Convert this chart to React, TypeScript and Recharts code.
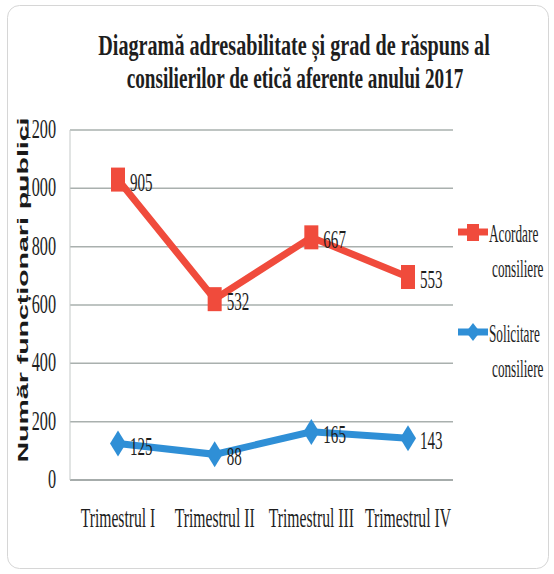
import React from "react";
import { AreaChart, Area, XAxis, YAxis, CartesianGrid, Legend, LabelList } from "recharts";

const quarters = ["Trimestrul I", "Trimestrul II", "Trimestrul III", "Trimestrul IV"];
const acordare = [905, 532, 667, 553];
const solicitare = [125, 88, 165, 143];
const yTicks = [0, 200, 400, 600, 800, 1000, 1200];
const seriesNames = ["Acordare consiliere", "Solicitare consiliere"];
const titleLines = ["Diagramă adresabilitate și grad de răspuns al", "consilierilor de etică aferente anului 2017"];
const yLabel = "Număr funcționari publici";

const RED = "#f04b3c";
const BLUE = "#2f8fd6";
const SERIF = "'Liberation Serif', 'Times New Roman', serif";
const SX = 0.58;

const data = quarters.map((q, i) => ({ q, solicitare: solicitare[i], acordare: acordare[i] }));

function Narrow({ x, y, size, anchor = "start", sx = SX, bold = false, children }: any) {
  return (
    <text
      transform={`translate(${x},${y}) scale(${sx},1)`}
      textAnchor={anchor}
      fontFamily={SERIF}
      fontWeight={bold ? "bold" : "normal"}
      fontSize={size}
      fill="#1e1e1e"
    >
      {children}
    </text>
  );
}

const XTick = ({ x, y, payload }: any) => (
  <Narrow x={x} y={y + 39} size={27} anchor="middle">{payload.value}</Narrow>
);

const YTick = ({ x, y, payload }: any) => (
  <Narrow x={x - 6} y={y + 8} size={28} anchor="end">{payload.value}</Narrow>
);

const redDot = (p: any) => (
  <rect key={`r${p.index}`} x={p.cx - 7} y={p.cy - 12} width={14} height={24} fill={RED} />
);

const blueDot = (p: any) => (
  <path
    key={`b${p.index}`}
    d={`M${p.cx - 8},${p.cy} L${p.cx},${p.cy - 13} L${p.cx + 8},${p.cy} L${p.cx},${p.cy + 13} Z`}
    fill={BLUE}
  />
);

const valueLabel = (p: any) => (
  <Narrow key={`l${p.index}`} x={p.x + 12} y={p.y + 11} size={26}>{p.value}</Narrow>
);

function LegendBox() {
  const items = [
    { name: seriesNames[0], color: RED, y: 17, shape: "square" },
    { name: seriesNames[1], color: BLUE, y: 117, shape: "diamond" },
  ];
  return (
    <svg width={99} height={170}>
      {items.map((it) => {
        const [a, b] = it.name.split(" ");
        return (
          <g key={it.name}>
            <line x1={3} x2={33} y1={it.y} y2={it.y} stroke={it.color} strokeWidth={7} />
            {it.shape === "square" ? (
              <rect x={12} y={it.y - 8} width={12} height={17} fill={it.color} />
            ) : (
              <path d={`M11,${it.y} L18,${it.y - 9} L25,${it.y} L18,${it.y + 9} Z`} fill={it.color} />
            )}
            <Narrow x={34} y={it.y + 10} size={25} sx={0.53}>{a}</Narrow>
            <Narrow x={37} y={it.y + 45} size={25} sx={0.53}>{b}</Narrow>
          </g>
        );
      })}
    </svg>
  );
}

export default function App() {
  return (
    <div style={{ position: "absolute", left: 0, top: 0, width: 554, height: 574, background: "#fff" }}>
      <AreaChart
        width={554}
        height={574}
        data={data}
        margin={{ top: 130, right: 101, bottom: 54, left: 0 }}
      >
        <CartesianGrid vertical={false} stroke="#a9b0ae" strokeWidth={1.5} />
        <XAxis
          dataKey="q"
          height={40}
          padding={{ left: 48, right: 45 }}
          axisLine={{ stroke: "#9ea5a3", strokeWidth: 1.5 }}
          tickLine={false}
          tick={<XTick />}
          interval={0}
        />
        <YAxis
          width={70}
          domain={[0, 1200]}
          ticks={yTicks}
          axisLine={{ stroke: "#c4c9c8" }}
          tickLine={false}
          tick={<YTick />}
        />
        <Legend
          layout="vertical"
          align="center"
          verticalAlign="middle"
          wrapperStyle={{ left: 455, top: 215, width: 99 }}
          content={() => <LegendBox />}
        />
        <Area
          type="linear"
          dataKey="solicitare"
          stackId="s"
          stroke={BLUE}
          strokeWidth={7}
          fill="none"
          dot={blueDot}
          activeDot={false}
          isAnimationActive={false}
        >
          <LabelList dataKey="solicitare" content={valueLabel} />
        </Area>
        <Area
          type="linear"
          dataKey="acordare"
          stackId="s"
          stroke={RED}
          strokeWidth={7}
          fill="none"
          dot={redDot}
          activeDot={false}
          isAnimationActive={false}
        >
          <LabelList dataKey="acordare" content={valueLabel} />
        </Area>
      </AreaChart>
      <svg
        width={554}
        height={574}
        style={{ position: "absolute", left: 0, top: 0, pointerEvents: "none" }}
      >
        <rect x={7.5} y={5.5} width={541} height={563} rx={12} fill="none" stroke="#d6d6d6" />
        <Narrow x={294} y={55} size={30} sx={0.672} anchor="middle" bold>{titleLines[0]}</Narrow>
        <Narrow x={295} y={88} size={30} sx={0.64} anchor="middle" bold>{titleLines[1]}</Narrow>
        <text
          transform="translate(28,290) scale(0.58,1) rotate(-90)"
          textAnchor="middle"
          fontFamily="'Liberation Sans', Arial, sans-serif"
          fontWeight="bold"
          fontSize={24}
          textLength={345}
          lengthAdjust="spacingAndGlyphs"
          fill="#1a1a1a"
        >
          {yLabel}
        </text>
      </svg>
    </div>
  );
}
